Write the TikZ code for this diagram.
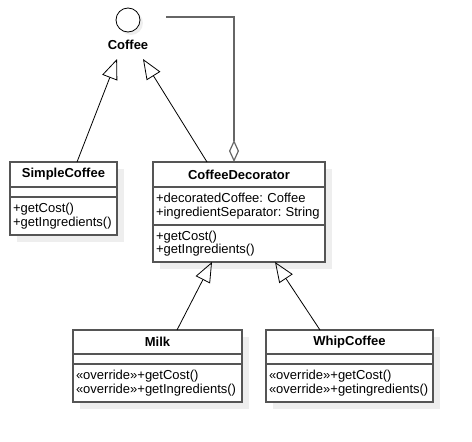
\documentclass[tikz,border=0pt]{standalone}
\usepackage{fontspec}
\setmainfont{Liberation Sans}
\usepackage{xcolor}
\usepackage{tikz}
\usetikzlibrary{arrows.meta, positioning, calc, backgrounds}
\frenchspacing

\definecolor{boxgray}{HTML}{555555}
\definecolor{linkgray}{HTML}{666666}
\definecolor{shadowgray}{HTML}{EEEEEE}

\tikzset{
    classpart/.style={draw=boxgray, line width=1.1pt, fill=white, align=left, anchor=north,
        inner xsep=3pt, inner ysep=0pt, outer sep=0pt, font=\fontsize{13}{13.5}\selectfont},
    classhead/.style={classpart, align=center, minimum height=25pt,
        font=\fontsize{13}{13.5}\selectfont\bfseries},
    gen/.style={-{Triangle[open, length=20pt, width=16pt]}, line width=0.8pt},
    agg/.style={-{Diamond[open, length=22pt, width=10pt]}, draw=linkgray, line width=1.2pt}
}

\begin{document}
\begin{tikzpicture}[x=1pt, y=-1pt]
    \useasboundingbox (0,0) rectangle (472,442);

    % Interface Coffee
    \node[circle, draw, line width=0.8pt, fill=white, minimum size=24pt, inner sep=0pt] (lollipop) at (128,20) {};
    \node[font=\fontsize{13}{13.5}\selectfont\bfseries] (coffee) at (128,45) {Coffee};
    \coordinate (coffeeL) at (117,59);
    \coordinate (coffeeR) at (143,59);
    \coordinate (aggstart) at (166,17);

    % SimpleCoffee
    \node[classhead, text width=101pt] (simple) at (63.5,162) {SimpleCoffee};
    \node[classpart, text width=101pt, minimum height=10pt, below=0pt of simple] (simpleattr) {};
    \node[classpart, text width=101pt, minimum height=38pt, below=0pt of simpleattr] (simpleops) {+getCost()\\+getIngredients()};

    % CoffeeDecorator
    \node[classhead, text width=166pt] (deco) at (239,162) {CoffeeDecorator};
    \node[classpart, text width=166pt, minimum height=38pt, below=0pt of deco] (decoattr) {+decoratedCoffee: Coffee\\+ingredientSeparator: String};
    \node[classpart, text width=166pt, minimum height=37pt, below=0pt of decoattr] (decoops) {+getCost()\\+getIngredients()};

    % Milk
    \node[classhead, text width=163pt, minimum height=24pt] (milk) at (157.5,330) {Milk};
    \node[classpart, text width=163pt, minimum height=10pt, below=0pt of milk] (milkattr) {};
    \node[classpart, text width=163pt, minimum height=38pt, below=0pt of milkattr] (milkops) {«override»+getCost()\\«override»+getIngredients()};

    % WhipCoffee
    \node[classhead, text width=161pt, minimum height=24pt] (whip) at (349.5,330) {WhipCoffee};
    \node[classpart, text width=161pt, minimum height=10pt, below=0pt of whip] (whipattr) {};
    \node[classpart, text width=161pt, minimum height=38pt, below=0pt of whipattr] (whipops) {«override»+getCost()\\«override»+getingredients()};

    % shadows
    \begin{scope}[on background layer]
        \fill[shadowgray] (131,23) circle (12pt);
        \foreach \cls/\last in {simple/simpleops, deco/decoops, milk/milkops, whip/whipops}
            \fill[shadowgray] ($(\cls.north west)+(7,7)$) rectangle ($(\last.south east)+(7,7)$);
    \end{scope}

    % Connectors
    \draw[gen] ([xshift=13.5pt]simple.north) -- (coffeeL);
    \draw[gen] ([xshift=-32pt]deco.north) -- (coffeeR);
    \draw[agg] (aggstart) -| ([xshift=-5pt]deco.north);
    \draw[gen] ([xshift=19.5pt]milk.north) -- ([xshift=-27pt]decoops.south);
    \draw[gen] ([xshift=-29.5pt]whip.north) -- ([xshift=36pt]decoops.south);
\end{tikzpicture}
\end{document}
